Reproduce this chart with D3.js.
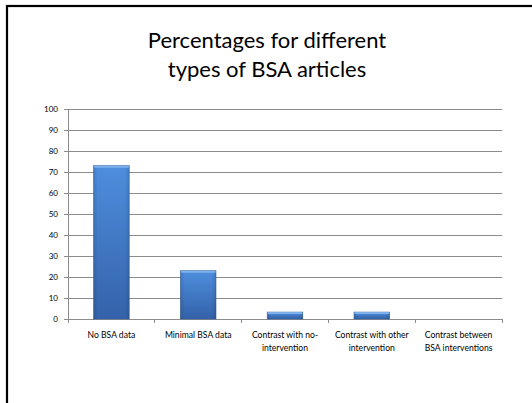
<!DOCTYPE html>
<html>
<head>
<meta charset="utf-8">
<script src="https://cdn.jsdelivr.net/npm/d3@7"></script>
<style>
  body { margin: 0; background: #fff; }
  svg { display: block; font-family: Lato, "Open Sans", sans-serif; }
</style>
</head>
<body>
<svg id="svg"></svg>
<script>
const categories = [
  ["No BSA data"],
  ["Minimal BSA data"],
  ["Contrast with no-", "intervention"],
  ["Contrast with other", "intervention"],
  ["Contrast between", "BSA interventions"]
];
const values = [73, 23, 3.3, 3.3, 0];
const yTicks = [0, 10, 20, 30, 40, 50, 60, 70, 80, 90, 100];
const titleLines = ["Percentages for different", "types of BSA articles"];

const width = 532, height = 403;
const plot = { left: 68, right: 502, top: 109, bottom: 319 };

const svg = d3.select('#svg')
  .attr('width', width)
  .attr('height', height);

// gradient for the bars
const defs = svg.append('defs');
const grad = defs.append('linearGradient')
  .attr('id', 'barGrad')
  .attr('x1', 0).attr('y1', 0).attr('x2', 0).attr('y2', 1);
grad.append('stop').attr('offset', '0%').attr('stop-color', '#4e8edd');
grad.append('stop').attr('offset', '100%').attr('stop-color', '#3462aa');
const side = defs.append('linearGradient')
  .attr('id', 'sideGrad')
  .attr('x1', 0).attr('y1', 0).attr('x2', 1).attr('y2', 0);
side.append('stop').attr('offset', '0%').attr('stop-color', '#000').attr('stop-opacity', 0.12);
side.append('stop').attr('offset', '12%').attr('stop-color', '#000').attr('stop-opacity', 0);
side.append('stop').attr('offset', '88%').attr('stop-color', '#000').attr('stop-opacity', 0);
side.append('stop').attr('offset', '100%').attr('stop-color', '#000').attr('stop-opacity', 0.12);

// slide frame
svg.append('rect')
  .attr('x', 7).attr('y', 6)
  .attr('width', 540).attr('height', 420)
  .attr('fill', 'none')
  .attr('stroke', '#000')
  .attr('stroke-width', 2.2);

// title
svg.append('g')
  .selectAll('text')
  .data(titleLines)
  .enter()
  .append('text')
    .attr('x', 267)
    .attr('y', (d, i) => 48 + i * 29)
    .attr('text-anchor', 'middle')
    .attr('font-size', '22px')
    .attr('fill', '#000')
    .text(d => d);

const x = d3.scaleBand()
  .domain(d3.range(categories.length))
  .range([plot.left, plot.right])
  .paddingInner(0.59)
  .paddingOuter(0.295);

const xEdge = d3.scaleLinear()
  .domain([0, categories.length])
  .range([plot.left, plot.right]);

const y = d3.scaleLinear()
  .domain([0, 100])
  .range([plot.bottom, plot.top]);

// gridlines
svg.append('g')
  .selectAll('line')
  .data(yTicks.slice(1))
  .enter()
  .append('line')
    .attr('x1', plot.left).attr('x2', plot.right)
    .attr('y1', d => y(d)).attr('y2', d => y(d))
    .attr('stroke', '#8c8c8c')
    .attr('stroke-width', 1)
    .attr('shape-rendering', 'crispEdges');

// y axis
const yAxis = svg.append('g')
  .attr('transform', `translate(${plot.left},0)`)
  .call(d3.axisLeft(y).tickValues(yTicks).tickSize(4).tickPadding(6));
yAxis.select('.domain').attr('stroke', '#8c8c8c').attr('shape-rendering', 'crispEdges');
yAxis.selectAll('.tick line').attr('stroke', '#8c8c8c').attr('shape-rendering', 'crispEdges');
yAxis.selectAll('.tick text')
  .attr('font-size', '8px')
  .attr('font-family', 'Lato, sans-serif')
  .attr('fill', '#000');

// x axis line and ticks at category boundaries
svg.append('line')
  .attr('x1', plot.left).attr('x2', plot.right)
  .attr('y1', plot.bottom).attr('y2', plot.bottom)
  .attr('stroke', '#8c8c8c')
  .attr('shape-rendering', 'crispEdges');
svg.append('g')
  .selectAll('line')
  .data(d3.range(categories.length + 1))
  .enter()
  .append('line')
    .attr('x1', d => xEdge(d)).attr('x2', d => xEdge(d))
    .attr('y1', plot.bottom).attr('y2', plot.bottom + 4)
    .attr('stroke', '#8c8c8c')
    .attr('shape-rendering', 'crispEdges');

// bars
const bars = svg.append('g')
  .selectAll('g')
  .data(values.map((v, i) => ({ v, i })).filter(d => d.v > 0))
  .enter()
  .append('g');

bars.append('rect')
  .attr('x', d => x(d.i))
  .attr('y', d => y(d.v))
  .attr('width', x.bandwidth())
  .attr('height', d => y(0) - y(d.v))
  .attr('fill', 'url(#barGrad)')
  .attr('stroke', '#3a5f95')
  .attr('stroke-width', 0.6);
bars.append('rect')
  .attr('x', d => x(d.i))
  .attr('y', d => y(d.v))
  .attr('width', x.bandwidth())
  .attr('height', d => y(0) - y(d.v))
  .attr('fill', 'url(#sideGrad)');
bars.append('rect')
  .attr('x', d => x(d.i) + 0.5)
  .attr('y', d => y(d.v))
  .attr('width', x.bandwidth() - 1)
  .attr('height', 2)
  .attr('fill', '#7fb2ec');

// category labels
const labels = svg.append('g')
  .selectAll('text')
  .data(categories)
  .enter()
  .append('text')
    .attr('x', (d, i) => x(i) + x.bandwidth() / 2)
    .attr('y', 338)
    .attr('text-anchor', 'middle')
    .attr('font-size', '8.6px')
    .attr('fill', '#000');
labels.selectAll('tspan')
  .data(d => d)
  .enter()
  .append('tspan')
    .attr('x', function() { return this.parentNode.getAttribute('x'); })
    .attr('dy', (d, i) => i === 0 ? 0 : 13)
    .text(d => d);
</script>
</body>
</html>
